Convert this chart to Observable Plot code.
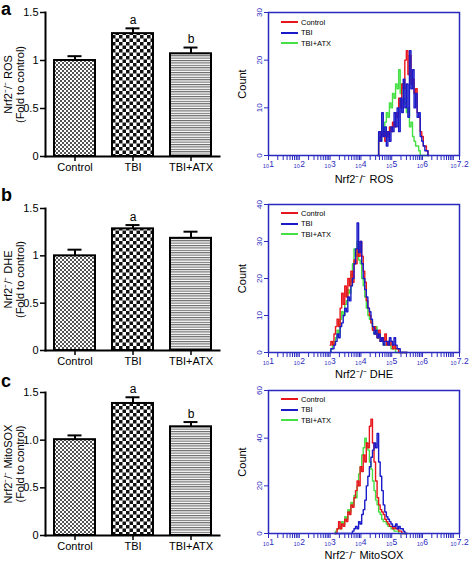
<!DOCTYPE html>
<html><head><meta charset="utf-8">
<script src="https://cdn.jsdelivr.net/npm/d3@7"></script>
<script src="https://cdn.jsdelivr.net/npm/@observablehq/plot@0.6"></script>
<style>
body{margin:0;background:#fff;}
#root{position:relative;width:472px;height:561px;overflow:hidden;background:#fff;font-family:"Liberation Sans",Arial,sans-serif;}
.panel{position:absolute;}
.letter{position:absolute;font-weight:bold;font-size:18px;line-height:1;color:#000;}
.legend{position:absolute;font-size:7.5px;color:#000;z-index:5;}
.legend div{display:flex;align-items:center;height:10.5px;white-space:nowrap;}
.legend span.l{display:inline-block;width:17px;height:2px;margin-right:3px;}
</style></head>
<body><div id="root"></div>
<script>
// ---------- data ----------
const categories = ["Control", "TBI", "TBI+ATX"];

const rosMean = [1.00, 1.28, 1.07];
const rosErr  = [0.045, 0.055, 0.065];
const rosSig  = ["", "a", "b"];

const dheMean = [1.00, 1.285, 1.185];
const dheErr  = [0.065, 0.04, 0.07];
const dheSig  = ["", "a", ""];

const mitoMean = [1.005, 1.385, 1.14];
const mitoErr  = [0.045, 0.065, 0.05];
const mitoSig  = ["", "a", "b"];

const binStep = 0.05; // log10 units per histogram bin

const rosStart = 4.55;
const rosControl = [0,3,5,4,5,3,5,4,6,5,7,6,9,8,12,10,15,14,20,22,17,21,15,16,13,14,9,8,5,4,2,2,1,0];
const rosTBI     = [0,5,3,9,4,6,2,5,3,6,5,9,6,10,5,12,9,16,10,15,8,22,14,18,10,13,8,9,4,3,2,1,1,0];
const rosATX     = [0,4,3,6,5,7,9,8,11,10,13,12,15,14,18,13,15,12,11,9,10,6,7,4,3,2,2,1,0,0,0,0,0,0];

const dheStart = 3.0;
const dheControl = [2,3,2,5,7,9,7,12,16,13,18,15,20,18,22,19,25,24,28,26,30,26,22,19,14,12,10,8,6,7,5,4,6,3,4,3,5,2,3,2,3,1,2,1,1,0,0,0,0,0,0];
const dheTBI     = [0,1,1,2,3,5,4,7,8,10,12,11,15,14,18,20,24,28,35,27,30,24,20,17,15,12,11,9,7,5,6,4,5,3,4,2,3,3,2,4,3,2,4,2,1,1,0,0,0,0,0];
const dheATX     = [0,1,2,3,4,6,5,9,11,10,13,14,17,16,21,24,28,26,30,25,24,20,18,15,12,10,9,8,6,5,7,4,5,3,3,2,2,2,3,2,1,1,1,0,0,0,0,0,0,0,0];

const mitoStart = 3.15;
const mitoControl = [0,0,2,5,2,4,3,6,5,9,8,12,11,15,18,22,20,28,26,33,30,38,36,45,48,38,30,22,15,12,10,9,8,6,5,4,3,3,2,3,2,2,1,1,0,0,0,0];
const mitoTBI     = [0,0,0,0,0,0,0,0,0,0,0,0,1,2,3,2,5,4,8,10,14,20,24,28,32,35,38,36,42,30,24,18,12,9,7,6,5,4,3,3,4,2,3,2,2,1,0,0];
const mitoATX     = [0,1,2,3,2,5,4,7,6,10,9,13,12,16,15,20,25,28,33,36,40,38,35,30,27,22,18,14,12,9,8,6,5,5,4,3,3,2,2,1,1,1,0,0,0,0,0,0];

const seriesNames = ["Control", "TBI", "TBI+ATX"];
const seriesColors = ["#e8161c", "#1a1ac8", "#44e044"];

// ---------- setup ----------
const root = document.getElementById("root");
const FONT = '"Liberation Sans", Arial, sans-serif';
const BLUE = "#2a2ac0";

// bar fill patterns
const defs = document.createElementNS("http://www.w3.org/2000/svg", "svg");
defs.setAttribute("width", 0); defs.setAttribute("height", 0);
defs.style.position = "absolute";
defs.innerHTML = `<defs>
<pattern id="patCtrl" patternUnits="userSpaceOnUse" width="4" height="4">
 <rect width="4" height="4" fill="#fff"/><rect width="2" height="2" fill="#555"/><rect x="2" y="2" width="2" height="2" fill="#555"/>
</pattern>
<pattern id="patTBI" patternUnits="userSpaceOnUse" width="7" height="7">
 <rect width="7" height="7" fill="#fff"/><rect width="3.5" height="3.5" fill="#111"/><rect x="3.5" y="3.5" width="3.5" height="3.5" fill="#111"/>
</pattern>
<pattern id="patATX" patternUnits="userSpaceOnUse" width="4" height="2.4">
 <rect width="4" height="2.4" fill="#fff"/><rect width="4" height="1.1" fill="#666"/>
</pattern></defs>`;
root.appendChild(defs);
const patIds = ["patCtrl", "patTBI", "patATX"];

function place(el, left, top) {
  const d = document.createElement("div");
  d.className = "panel"; d.style.left = left + "px"; d.style.top = top + "px";
  d.appendChild(el); root.appendChild(d);
}

function barPanel(means, errs, sigs, ylab, fmt, mt, mb) {
  const data = categories.map((c, i) => ({cat: c, value: means[i], err: errs[i], sig: sigs[i]}));
  return Plot.plot({
    width: 236, height: 185,
    marginLeft: 45, marginRight: 17, marginTop: mt, marginBottom: mb,
    x: {domain: categories, paddingInner: 0.3, paddingOuter: 0.15, label: null},
    y: {domain: [0, 1.5], label: null},
    style: {fontFamily: FONT, fontSize: "11px", color: "#000", background: "transparent", overflow: "visible"},
    marks: [
      ...data.map((d, i) => Plot.barY([d], {x: "cat", y: "value", fill: `url(#${patIds[i]})`, stroke: "#000", strokeWidth: 2})),
      Plot.ruleX(data, {x: "cat", y1: "value", y2: d => d.value + d.err, stroke: "#000", strokeWidth: 2}),
      Plot.tickY(data, {x: "cat", y: d => d.value + d.err, stroke: "#000", strokeWidth: 2, insetLeft: 13.5, insetRight: 13.5}),
      Plot.text(data, {x: "cat", y: d => d.value + d.err, text: "sig", dy: -8, fontSize: 12}),
      Plot.axisX({tickSize: 5, tickPadding: 2, strokeWidth: 1.5, fontSize: 11, label: null}),
      Plot.axisY({ticks: [0, 0.5, 1, 1.5], tickFormat: fmt, tickSize: 5, tickPadding: 2, strokeWidth: 1.5, fontSize: 11, label: null}),
      Plot.frame({anchor: "left", strokeWidth: 2}),
      Plot.frame({anchor: "bottom", strokeWidth: 2}),
      Plot.text([ylab + "\n(Fold to control)"], {frameAnchor: "left", textAnchor: "middle", dx: -31, rotate: -90, fontSize: 11, lineHeight: 1.05})
    ]
  });
}

const majorTicks = [1, 2, 3, 4, 5, 6, 7.2].map(e => 10 ** e);
const minorTicks = [];
for (let e = 1; e <= 7; e++) for (let k = 1; k <= 9; k++) { const v = k * 10 ** e; if (v <= 10 ** 7.2) minorTicks.push(v); }
minorTicks.push(10 ** 7.2);
const sub10 = "\u2081\u2080";

function histPanel(start, arrs, yMax, yTicks, xlab, height, mt, mb, xlabDy) {
  const rows = [];
  arrs.forEach((arr, s) => arr.forEach((c, i) => rows.push({x: 10 ** (start + i * binStep), count: c, group: seriesNames[s]})));
  const order = [2, 0, 1];
  return Plot.plot({
    width: 236, height,
    marginLeft: 32, marginRight: 13, marginTop: mt, marginBottom: mb,
    x: {type: "log", domain: [10, 10 ** 7.2], label: null},
    y: {domain: [0, yMax], label: null},
    style: {fontFamily: FONT, fontSize: "11px", color: "#000", background: "transparent", overflow: "visible"},
    marks: [
      Plot.axisY({ticks: yTicks, tickSize: 4, tickRotate: -90, tickPadding: 3, color: BLUE, fontSize: 8, label: null}),
      Plot.axisX({ticks: minorTicks, tickSize: 5, tickFormat: () => "", color: BLUE, label: null}),
      Plot.axisX({ticks: majorTicks, tickSize: 0, tickPadding: 5, color: BLUE, fontSize: 8.5, label: null,
        tickFormat: d => sub10 + (Math.round(Math.log10(d) * 10) / 10)}),
      ...order.map(s => Plot.line(rows.filter(r => r.group === seriesNames[s]),
        {x: "x", y: "count", stroke: seriesColors[s], strokeWidth: 1.4, curve: "step"})),
      Plot.frame({stroke: BLUE, strokeWidth: 1.5}),
      Plot.text(["Count"], {frameAnchor: "left", textAnchor: "middle", dx: -26, rotate: -90, fontSize: 11}),
      Plot.text([xlab], {frameAnchor: "bottom", dy: xlabDy, fontSize: 11})
    ]
  });
}

function legend(left, top) {
  const d = document.createElement("div");
  d.className = "legend"; d.style.left = left + "px"; d.style.top = top + "px";
  seriesNames.forEach((n, i) => {
    const row = document.createElement("div");
    const l = document.createElement("span"); l.className = "l"; l.style.background = seriesColors[i];
    row.appendChild(l); row.appendChild(document.createTextNode(n));
    d.appendChild(row);
  });
  root.appendChild(d);
}

function letter(t, left, top) {
  const d = document.createElement("div");
  d.className = "letter"; d.textContent = t; d.style.left = left + "px"; d.style.top = top + "px";
  root.appendChild(d);
}

const fmtA = d => String(d);
const fmtC = d => d === 0 ? "0" : d.toFixed(1);

place(barPanel(rosMean, rosErr, rosSig, "Nrf2\u207B/\u207B ROS", fmtA, 12, 29), 0, 0);
place(barPanel(dheMean, dheErr, dheSig, "Nrf2\u207B/\u207B DHE", fmtA, 23, 20), 0, 185);
place(barPanel(mitoMean, mitoErr, mitoSig, "Nrf2\u207B/\u207B MitoSOX", fmtC, 21, 21), 0, 371);

place(histPanel(rosStart, [rosControl, rosTBI, rosATX], 30, [0, 10, 20, 30], "Nrf2\u207B/\u207B ROS", 190, 12, 35, 27), 236, 0);
place(histPanel(dheStart, [dheControl, dheTBI, dheATX], 40, [0, 10, 20, 30, 40], "Nrf2\u207B/\u207B DHE", 190, 14, 28, 25), 236, 190);
place(histPanel(mitoStart, [mitoControl, mitoTBI, mitoATX], 60, [0, 20, 40, 60], "Nrf2\u207B/\u207B MitoSOX", 186, 15, 28, 25), 236, 375);

legend(281, 17);
legend(281, 208);
legend(281, 394);

letter("a", 1, 0);
letter("b", 1, 186);
letter("c", 1, 372);
</script>
</body></html>
